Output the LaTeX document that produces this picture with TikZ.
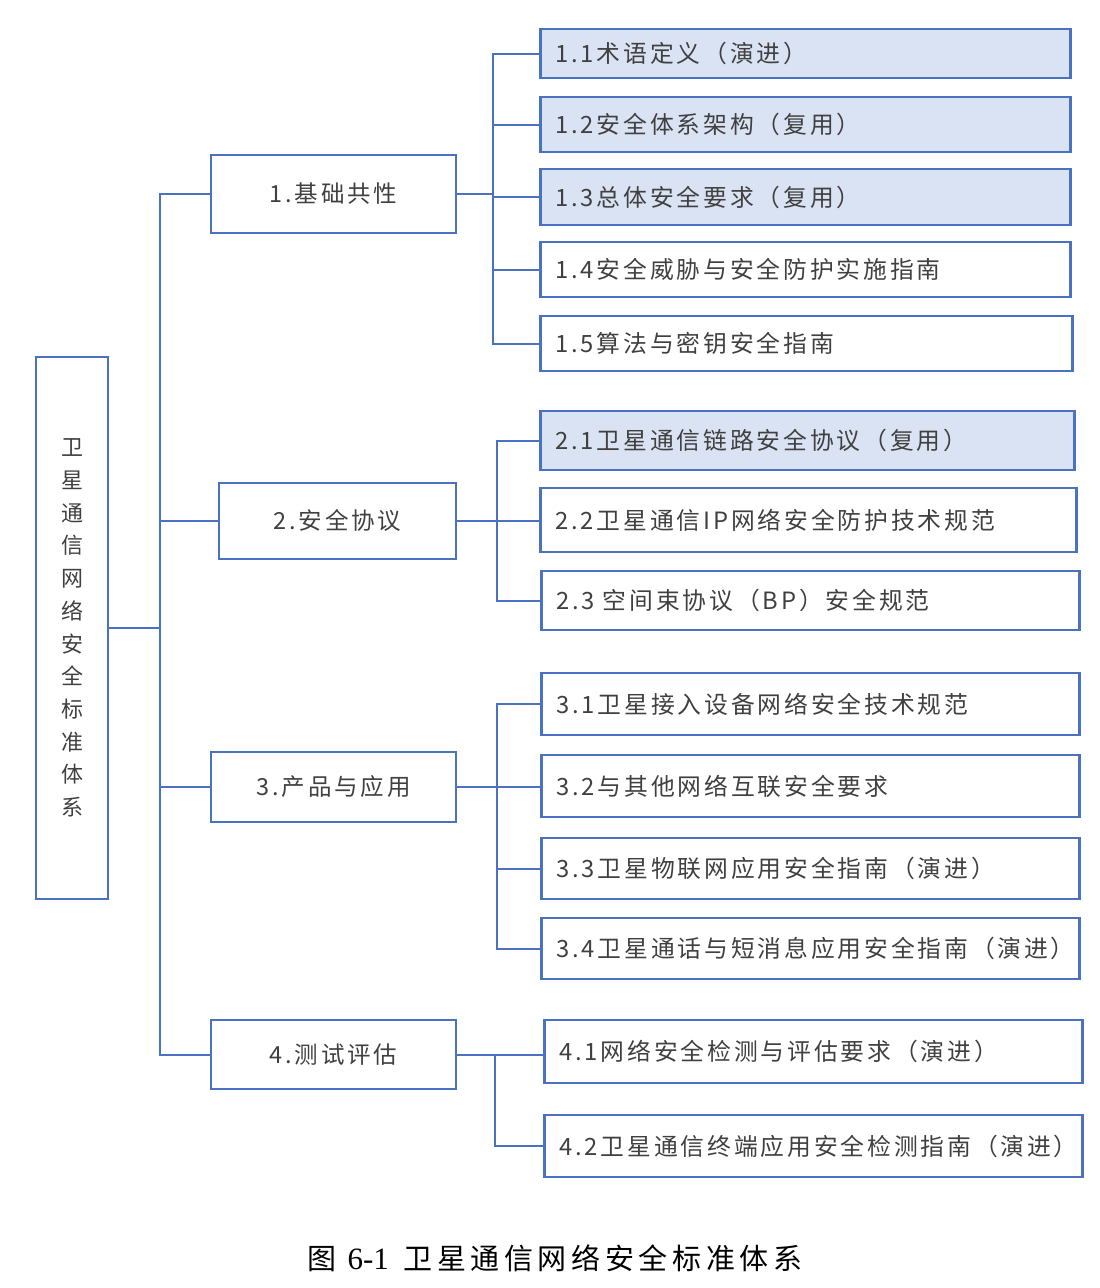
\documentclass[tikz,border=0pt]{standalone}
\usepackage{fontspec}
\setmainfont[LetterSpace=12]{Noto Sans CJK SC}
\newfontfamily\capfont[LetterSpace=16]{Noto Sans CJK SC}
\newfontfamily\capnum{Liberation Serif}
\usetikzlibrary{positioning}
\definecolor{lineblue}{HTML}{4A72C0}
\definecolor{boxblue}{HTML}{DAE3F3}
\definecolor{txtgray}{HTML}{404040}
\tikzset{
    root/.style={
        rectangle,
        draw=lineblue,
        line width=2.5pt,
        minimum width=72pt,
        minimum height=542pt,
        text=txtgray,
        align=center,
        font=\fontsize{22pt}{32.7pt}\selectfont
    },
    cat/.style={
        rectangle,
        draw=lineblue,
        line width=2.5pt,
        text=txtgray,
        font=\fontsize{23.5pt}{28pt}\selectfont
    },
    leaf/.style={
        rectangle,
        draw=lineblue,
        line width=2.5pt,
        anchor=west,
        minimum width=#1,
        text width=#1-30,
        inner xsep=15pt,
        align=left,
        text=txtgray,
        font=\fontsize{23.8pt}{28pt}\selectfont
    },
    hl/.style={fill=boxblue},
    link/.style={draw=lineblue, line width=2pt}
}

\begin{document}
\begin{tikzpicture}[x=1pt, y=-1pt]
\useasboundingbox (0,0) rectangle (1100,1288);

% root
\node[root] (root) at (72,628) {卫\\星\\通\\信\\网\\络\\安\\全\\标\\准\\体\\系};

% categories
\node[cat, minimum width=245pt, minimum height=78pt] (c1) at (333.5,194) {1.基础共性};
\node[cat, minimum width=237pt, minimum height=76pt] (c2) at (337.5,521) {2.安全协议};
\node[cat, minimum width=245pt, minimum height=70pt] (c3) at (333.5,787) {3.产品与应用};
\node[cat, minimum width=245pt, minimum height=69pt] (c4) at (333.5,1054.5) {4.测试评估};

% leaves
\node[leaf=530, hl, minimum height=49pt] (l11) at (539,53.5) {1.1术语定义（演进）};
\node[leaf=530, hl, minimum height=55pt] (l12) at (539,124.5) {1.2安全体系架构（复用）};
\node[leaf=530, hl, minimum height=56pt] (l13) at (539,197) {1.3总体安全要求（复用）};
\node[leaf=530, minimum height=55pt] (l14) at (539,269.5) {1.4安全威胁与安全防护实施指南};
\node[leaf=532, minimum height=55pt] (l15) at (539,343.5) {1.5算法与密钥安全指南};

\node[leaf=534, hl, minimum height=59pt] (l21) at (539,440.5) {2.1卫星通信链路安全协议（复用）};
\node[leaf=536, minimum height=64pt] (l22) at (539,520) {2.2卫星通信IP网络安全防护技术规范};
\node[leaf=538, minimum height=59pt] (l23) at (540,600.5) {2.3 空间束协议（BP）安全规范};

\node[leaf=538, minimum height=62pt] (l31) at (540,704) {3.1卫星接入设备网络安全技术规范};
\node[leaf=538, minimum height=62pt] (l32) at (540,786) {3.2与其他网络互联安全要求};
\node[leaf=538, minimum height=61pt] (l33) at (540,868.5) {3.3卫星物联网应用安全指南（演进）};
\node[leaf=538, minimum height=61pt] (l34) at (540,948.5) {3.4卫星通话与短消息应用安全指南（演进）};

\node[leaf=538, minimum height=63pt] (l41) at (543,1051.5) {4.1网络安全检测与评估要求（演进）};
\node[leaf=538, minimum height=62pt] (l42) at (543,1146) {4.2卫星通信终端应用安全检测指南（演进）};

% trunk
\coordinate (trunk) at (160,0);
\draw[link] (c1.west) -- (c1.west -| trunk) -- (c4.west -| trunk) -- (c4.west);
\draw[link] (c2.west) -- (c2.west -| trunk);
\draw[link] (c3.west) -- (c3.west -| trunk);
\draw[link] (root.east) -- (root.east -| trunk);

% group 1
\coordinate (bus1) at (493,0);
\draw[link] (c1.east) -- (c1.east -| bus1);
\draw[link] (l11.west) -- (l11.west -| bus1) -- (l15.west -| bus1) -- (l15.west);
\foreach \n in {12,13,14}
    \draw[link] (l\n.west) -- (l\n.west -| bus1);

% group 2
\coordinate (bus2) at (497,0);
\draw[link] (c2.east) -- (c2.east -| l22.west);
\draw[link] (l21.west) -- (l21.west -| bus2) -- (l23.west -| bus2) -- (l23.west);

% group 3
\coordinate (bus3) at (497,0);
\draw[link] (c3.east) -- (c3.east -| l32.west);
\draw[link] (l31.west) -- (l31.west -| bus3) -- (l34.west -| bus3) -- (l34.west);
\draw[link] (l33.west) -- (l33.west -| bus3);

% group 4
\coordinate (bus4) at (495,0);
\draw[link] (c4.east) -- (c4.east -| l41.west);
\draw[link] (l42.west) -| (c4.east -| bus4);

% caption
\node[font=\capfont\fontsize{29pt}{32pt}\selectfont] (cap) at (555,1258) {图 {\capnum\fontsize{31pt}{32pt}\selectfont 6-1}\enspace 卫星通信网络安全标准体系};
\end{tikzpicture}
\end{document}
